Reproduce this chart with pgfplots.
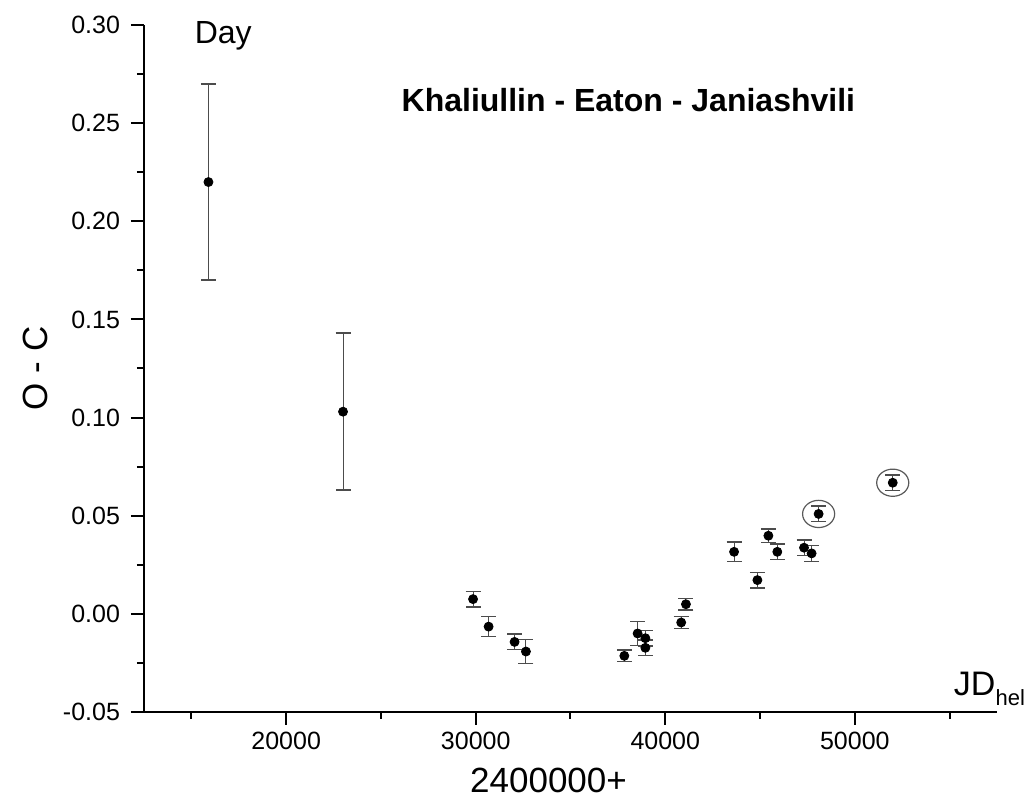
\documentclass[border=0pt]{standalone}
\usepackage{pgfplots}
\pgfplotsset{compat=1.18}
\usepackage{fontspec}
\setmainfont{Liberation Sans}
\begin{document}
\begin{tikzpicture}
\path[use as bounding box] (-72pt,-44.5pt) rectangle (442pt,356pt);
\begin{axis}[
  scale only axis, width=426.5pt, height=343.5pt,
  at={(0,0)}, anchor=south west,
  xmin=12500, xmax=57500, ymin=-0.05, ymax=0.30,
  scaled x ticks=false, scaled y ticks=false,
  axis x line*=bottom, axis y line*=left,
  axis line style={line width=1pt, -},
  tick align=outside,
  major tick length=6.5pt, minor tick length=3.5pt,
  every tick/.style={black, line width=1pt},
  xtick={20000,30000,40000,50000},
  xticklabels={20000,30000,40000,50000},
  minor xtick={15000,25000,35000,45000,55000},
  ytick={-0.05,0,0.05,0.10,0.15,0.20,0.25,0.30},
  yticklabels={-0.05,0.00,0.05,0.10,0.15,0.20,0.25,0.30},
  minor ytick={-0.025,0.025,0.075,0.125,0.175,0.225,0.275},
  ticklabel style={font=\fontsize{12.5}{15}\selectfont},
  yticklabel style={xshift=-2pt},
  clip=false,
]
\addplot[only marks, mark=*, mark size=2.25pt, black,
  error bars/.cd, y dir=both, y explicit,
  error bar style={black!70, line width=0.5pt},
  error mark options={rotate=90, black!70, line width=0.7pt, mark size=3.75pt}]
  table[x=x, y=y, y error=e] {
x y e
15900 0.220 0.050
23000 0.103 0.040
29860 0.0075 0.004
30680 -0.0065 0.005
32050 -0.0143 0.004
32650 -0.0192 0.006
37840 -0.0214 0.003
38540 -0.0100 0.006
38950 -0.0124 0.004
38950 -0.0173 0.004
40840 -0.0044 0.003
41090 0.0049 0.003
43630 0.0316 0.005
44860 0.0172 0.004
45440 0.0398 0.0035
45910 0.0316 0.004
47320 0.0337 0.004
47720 0.0308 0.004
48090 0.0509 0.004
52000 0.0668 0.004
};
\addplot[only marks, mark=o, mark size=6.8pt, mark options={xscale=1.18, black!65, line width=0.6pt}]
  coordinates {(48090,0.0509) (52000,0.0668)};
\node[anchor=base west, inner sep=0pt, font=\fontsize{16}{19}\selectfont] at (axis cs:15158,0.2908) {Day};
\node[font=\bfseries\fontsize{16}{19}\selectfont] at (axis cs:38053,0.2617) {Khaliullin - Eaton - Janiashvili};
\node[anchor=base west, font=\fontsize{17}{20}\selectfont, inner sep=0pt] at (axis cs:55210,-0.0418) {JD\raisebox{-5pt}{\fontsize{11}{13}\selectfont hel}};
\node[rotate=90, font=\fontsize{17.5}{20}\selectfont] at ([xshift=-54.5pt]rel axis cs:0,0.5) {O - C};
\node[font=\fontsize{17.5}{20}\selectfont] at ([yshift=-34pt]axis cs:33842,-0.05) {2400000+};
\end{axis}
\end{tikzpicture}
\end{document}
